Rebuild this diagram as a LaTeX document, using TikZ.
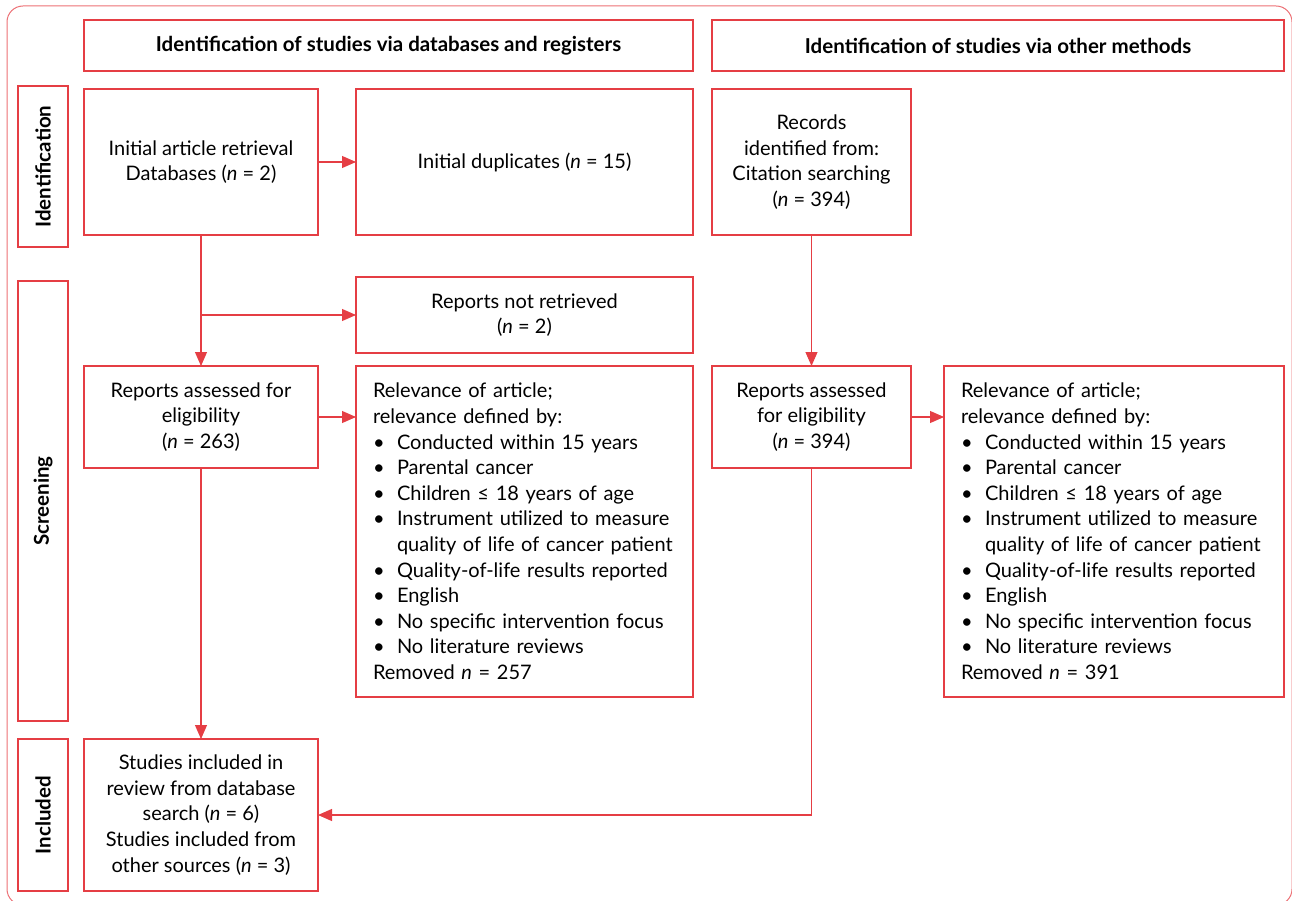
\documentclass[tikz,border=0pt]{standalone}
\usepackage{fontspec}
\setmainfont{Lato}
\usetikzlibrary{arrows.meta, positioning}

\definecolor{prred}{RGB}{229,62,68}
\definecolor{framered}{RGB}{236,112,117}

\newcommand{\bitem}[1]{\makebox[24pt][l]{\textbullet}#1}
\newcommand{\bcont}[1]{\hspace*{24pt}#1}
\newcommand{\criteria}[1]{%
  Relevance of article;\\
  relevance defined by:\\
  \bitem{Conducted within 15 years}\\
  \bitem{Parental cancer}\\
  \bitem{Children ≤ 18 years of age}\\
  \bitem{Instrument utilized to measure}\\
  \bcont{quality of life of cancer patient}\\
  \bitem{Quality-of-life results reported}\\
  \bitem{English}\\
  \bitem{No specific intervention focus}\\
  \bitem{No literature reviews}\\
  Removed \textit{n} = #1}

\begin{document}
\begin{tikzpicture}[
  x=1pt, y=-1pt,
  box/.style = {draw=prred, line width=1.1pt, inner sep=0pt, outer sep=0pt, align=center,
                font=\fontsize{20}{25.6}\selectfont},
  head/.style = {box, minimum height=51pt, font=\bfseries\fontsize{20.5}{24}\selectfont},
  phase/.style = {box, rotate=90, minimum height=50pt, font=\bfseries\fontsize{20.5}{24}\selectfont},
  listbox/.style = {box, align=left, inner xsep=17pt, minimum height=331pt},
  arrow/.style = {prred, line width=1.1pt, -{Triangle[length=14pt,width=12pt]}},
  node distance=38pt and 38pt
]

  \useasboundingbox (0,0) rectangle (1292,901);
  \draw[framered, line width=1pt, rounded corners=16pt] (7,6) rectangle (1292,905);

  % column headers
  \node[head, minimum width=609pt] (headdb) at (388.5,45.5)
    {Identification of studies via databases and registers};
  \node[head, minimum width=572pt] (headoth) at (998,45.5)
    {Identification of studies via other methods};

  % phases
  \node[phase, minimum width=161pt] (phident) at (43,166.5) {Identification};
  \node[phase, minimum width=440pt] (phscreen) at (43,501) {Screening};
  \node[phase, minimum width=152pt] (phincl) at (43,815) {Included};

  % databases
  \node[box, minimum width=234pt, minimum height=146pt] (init) at (201,162)
    {Initial article retrieval\\Databases (\textit{n} = 2)};
  \node[box, minimum width=337pt, minimum height=146pt, right=of init] (dup)
    {Initial duplicates (\textit{n} = 15)};
  \node[box, minimum width=337pt, minimum height=76pt, below=42pt of dup] (notret)
    {Reports not retrieved\\(\textit{n} = 2)};
  \node[box, minimum width=234pt, minimum height=102pt, below=131pt of init] (assL)
    {Reports assessed for\\eligibility\\(\textit{n} = 263)};
  \node[listbox, text width=303pt, below=13pt of notret] (relL) {\criteria{257}};
  \node[box, minimum width=234pt, minimum height=152pt, below=271pt of assL] (incl)
    {Studies included in\\review from database\\search (\textit{n} = 6)\\Studies included from\\other sources (\textit{n} = 3)};

  % other methods
  \node[box, minimum width=199pt, minimum height=146pt, right=19pt of dup] (rec)
    {Records\\identified from:\\Citation searching\\(\textit{n} = 394)};
  \node[box, minimum width=199pt, minimum height=102pt, below=131pt of rec] (assR)
    {Reports assessed\\for eligibility\\(\textit{n} = 394)};
  \node[listbox, text width=306pt, right=33pt of assR.north east, anchor=north west] (relR)
    {\criteria{391}};

  % connectors
  \draw[arrow] (init) -- (dup);
  \draw[arrow] (init.south) -- (assL.north);
  \coordinate (branch) at (init.south |- notret.west);
  \draw[arrow] (branch) -- (notret.west);
  \draw[arrow] (assL.east) -- (assL.east -| relL.west);
  \draw[arrow] (assL.south) -- (incl.north);
  \draw[arrow] (rec.south) -- (assR.north);
  \draw[arrow] (assR.east) -- (assR.east -| relR.west);
  \draw[arrow] (assR.south) |- (incl.east);

\end{tikzpicture}
\end{document}
